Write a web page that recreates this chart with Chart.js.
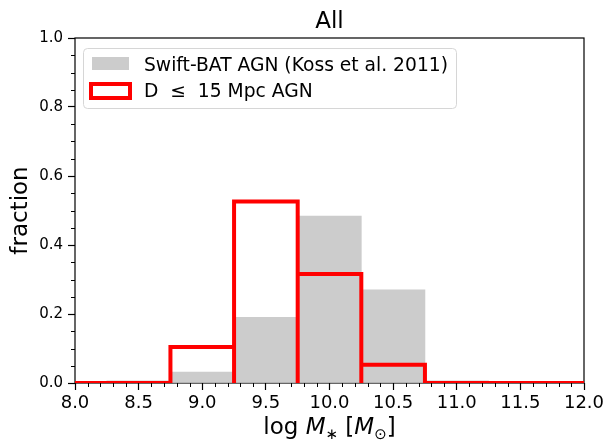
<!DOCTYPE html>
<html>
<head>
<meta charset="utf-8">
<script src="https://cdn.jsdelivr.net/npm/chart.js@4.4.0/dist/chart.umd.min.js"></script>
<style>
  html, body { margin: 0; padding: 0; background: #fff; }
  #wrap { width: 609px; height: 444px; }
</style>
</head>
<body>
<div id="wrap"><canvas id="hist"></canvas></div>
<script>
// histogram bins (log stellar mass), width 0.5
const binCenters = [8.0, 8.5, 9.0, 9.5, 10.0, 10.5, 11.0, 11.5, 12.0];
const binWidth = 0.5;
const swiftBat = [0, 0.006, 0.032, 0.19, 0.484, 0.27, 0.006, 0, 0];
const localAgn = [0, 0, 0.104, 0.526, 0.316, 0.053, 0, 0, 0];
const seriesLabels = ["Swift-BAT AGN (Koss et al. 2011)", "D  \u2264  15 Mpc AGN"];
const titleText = "All";

const FONT = "'DejaVu Sans', sans-serif";

// outline of each red bar (histtype bar, no fill)
let outline = [];
binCenters.forEach((c, i) => {
  let l = c - binWidth / 2;
  let r = c + binWidth / 2;
  outline.push({ x: l, y: 0 }, { x: l, y: localAgn[i] }, { x: r, y: localAgn[i] }, { x: r, y: 0 });
});

// frame, minor ticks, title, legend and x label
const decorations = {
  id: "decorations",
  beforeDatasetsDraw(chart) {
    const ctx = chart.ctx;
    const a = chart.chartArea;
    ctx.save();
    ctx.strokeStyle = "#000";
    ctx.lineWidth = 1.2;
    ctx.strokeRect(a.left, a.top, a.right - a.left, a.bottom - a.top);

    // minor ticks
    const xs = chart.scales.x;
    const ys = chart.scales.y;
    ctx.lineWidth = 1;
    ctx.beginPath();
    for (let k = 0; k <= 40; k++) {
      if (k % 5 === 0) continue;
      let px = Math.round(xs.getPixelForValue(8 + k * 0.1)) + 0.5;
      ctx.moveTo(px, a.bottom);
      ctx.lineTo(px, a.bottom + 4);
    }
    for (let k = 0; k <= 20; k++) {
      if (k % 4 === 0) continue;
      let py = Math.round(ys.getPixelForValue(k * 0.05)) + 0.5;
      ctx.moveTo(a.left, py);
      ctx.lineTo(a.left - 4, py);
    }
    ctx.stroke();
    ctx.restore();
  },
  afterDraw(chart) {
    const ctx = chart.ctx;
    const a = chart.chartArea;
    const mid = (a.left + a.right) / 2;
    ctx.save();
    ctx.fillStyle = "#000";
    ctx.textBaseline = "alphabetic";

    // title
    ctx.font = "23px " + FONT;
    ctx.textAlign = "center";
    ctx.fillText(titleText, mid, 28);

    // legend
    const ds = chart.data.datasets;
    ctx.beginPath();
    ctx.roundRect(83.5, 48.5, 373, 60, 4);
    ctx.fillStyle = "rgba(255,255,255,0.8)";
    ctx.fill();
    ctx.strokeStyle = "#d6d6d6";
    ctx.lineWidth = 1;
    ctx.stroke();

    ctx.fillStyle = ds[1].backgroundColor;
    ctx.fillRect(92, 57, 37, 13);
    ctx.strokeStyle = ds[0].borderColor;
    ctx.lineWidth = 4;
    ctx.strokeRect(91, 84, 39, 14);

    ctx.fillStyle = "#000";
    ctx.font = "18.7px " + FONT;
    ctx.textAlign = "left";
    ctx.fillText(ds[1].label, 144, 71);
    ctx.fillText(ds[0].label, 144, 97);

    // x axis label: log M_* [M_sun]
    const parts = [
      ["log ", "23px " + FONT, 0],
      ["M", "oblique 23px " + FONT, 0],
      ["\u2217", "15px " + FONT, 5],
      [" [", "23px " + FONT, 0],
      ["M", "oblique 23px " + FONT, 0],
      ["\u2299", "15px " + FONT, 5],
      ["]", "23px " + FONT, 0],
    ];
    let total = 0;
    parts.forEach(p => { ctx.font = p[1]; total += ctx.measureText(p[0]).width; });
    let x = mid - total / 2;
    parts.forEach(p => {
      ctx.font = p[1];
      ctx.fillText(p[0], x, 434 + p[2]);
      x += ctx.measureText(p[0]).width;
    });
    ctx.restore();
  },
};

new Chart(document.getElementById("hist"), {
  type: "bar",
  data: {
    datasets: [
      {
        type: "line",
        label: seriesLabels[1],
        data: outline,
        borderColor: "#ff0000",
        backgroundColor: "transparent",
        borderWidth: 4,
        borderJoinStyle: "miter",
        pointRadius: 0,
        tension: 0,
        fill: false,
        order: 0,
      },
      {
        type: "bar",
        label: seriesLabels[0],
        data: binCenters.map((c, i) => ({ x: c, y: swiftBat[i] })),
        backgroundColor: "#cccccc",
        borderWidth: 0,
        barPercentage: 1,
        categoryPercentage: 1,
        grouped: false,
        order: 1,
      },
    ],
  },
  options: {
    responsive: true,
    maintainAspectRatio: false,
    animation: false,
    layout: { padding: { top: 38, right: 25, left: 0, bottom: 0 } },
    plugins: { legend: { display: false }, tooltip: { enabled: false }, title: { display: false } },
    scales: {
      x: {
        type: "linear",
        min: 8,
        max: 12,
        offset: false,
        border: { display: false },
        grid: { display: true, drawOnChartArea: false, offset: false, tickLength: 7, color: "#000", tickWidth: 1.2 },
        ticks: {
          stepSize: 0.5,
          padding: 3,
          color: "#000",
          font: { family: FONT, size: 18 },
          maxRotation: 0,
          callback: v => v.toFixed(1),
        },
        afterFit: s => { s.height = 61; },
      },
      y: {
        min: 0,
        max: 1,
        border: { display: false },
        grid: { display: true, drawOnChartArea: false, tickLength: 7, color: "#000", tickWidth: 1.2 },
        ticks: {
          stepSize: 0.2,
          padding: 5,
          color: "#000",
          font: { family: FONT, size: 15 },
          callback: v => v.toFixed(1),
        },
        title: { display: true, text: "fraction", color: "#000", font: { family: FONT, size: 23 }, padding: { top: 7, bottom: 0 } },
        afterFit: s => { s.width = 75; },
      },
    },
  },
  plugins: [decorations],
});
</script>
</body>
</html>
